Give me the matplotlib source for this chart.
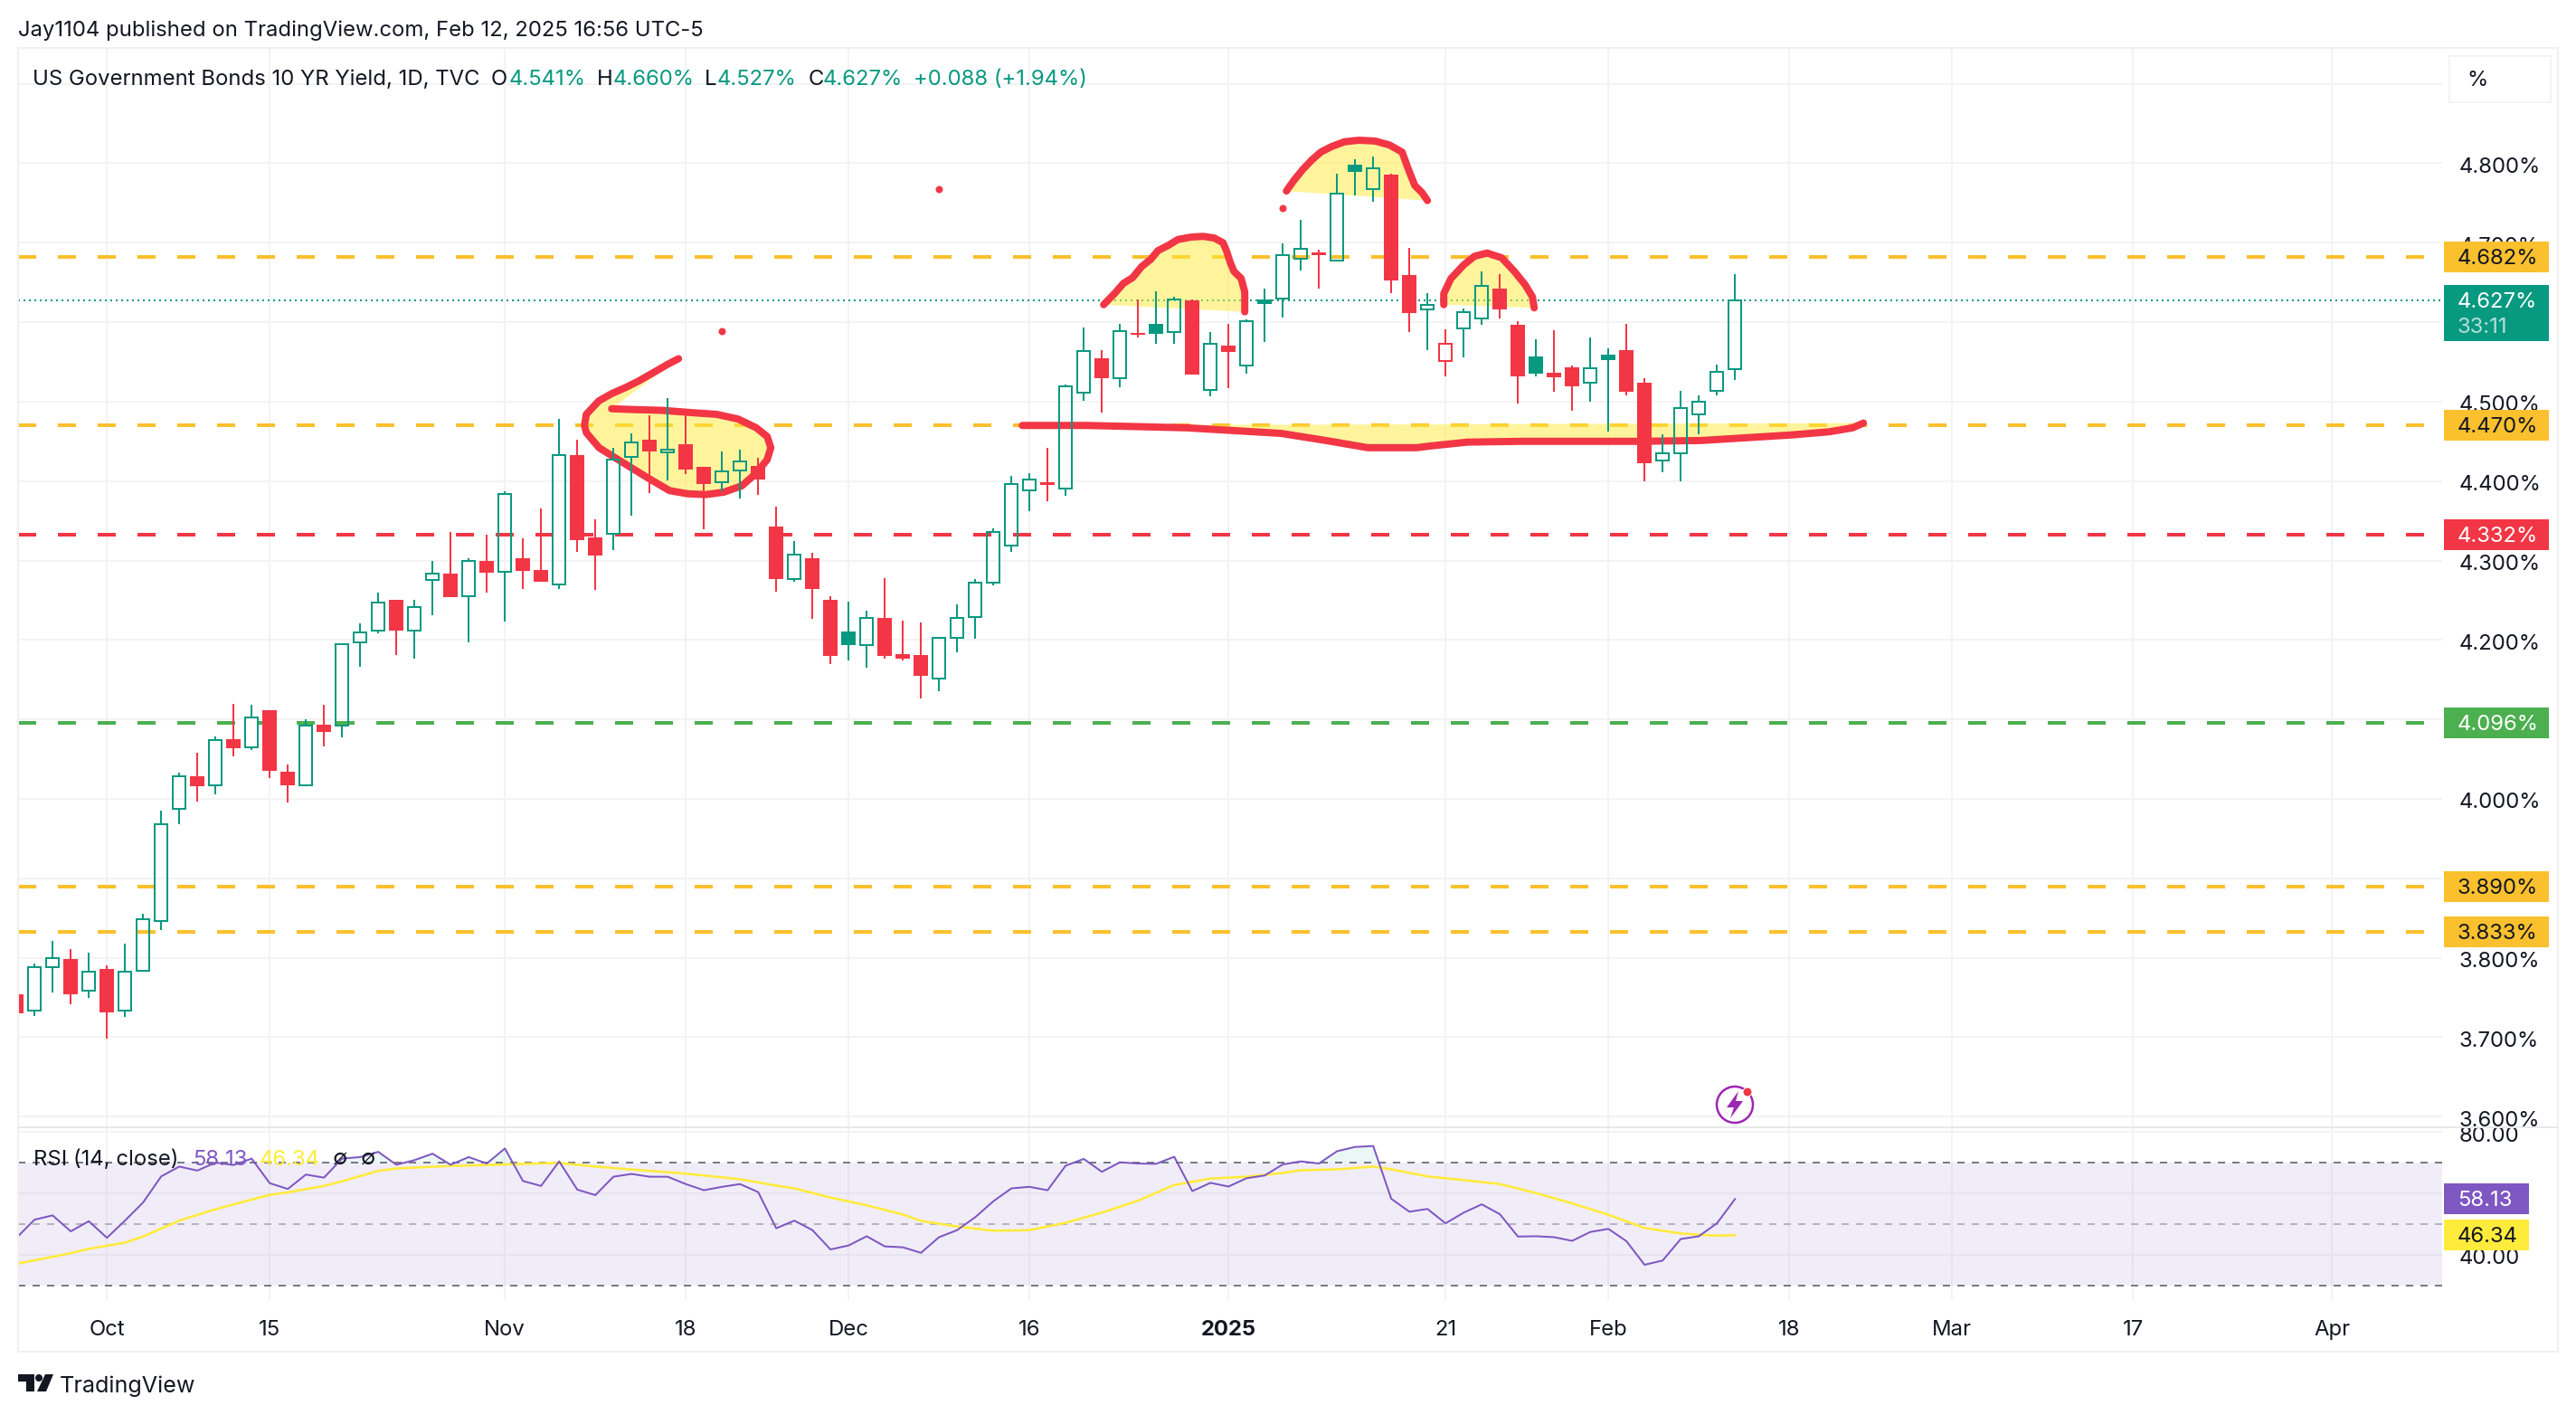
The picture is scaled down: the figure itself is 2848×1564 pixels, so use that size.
import matplotlib
matplotlib.use("Agg")
import matplotlib.pyplot as plt
from matplotlib.patches import Rectangle, Polygon, Circle
from matplotlib.text import Text
from matplotlib.transforms import Bbox, ScaledTranslation

plt.rcParams['font.family'] = ['Inter', 'DejaVu Sans']

W, H = 2848, 1564
PX = 0.72  # one pixel in points at dpi 100

# daily candles, bar 0 is the clipped one at the left edge
opens = [3.754, 3.733, 3.788, 3.798, 3.759, 3.786, 3.733, 3.784, 3.846, 3.987,
         4.029, 4.017, 4.075, 4.065, 4.112, 4.034, 4.017, 4.093, 4.092, 4.197,
         4.212, 4.250, 4.212, 4.276, 4.284, 4.255, 4.300, 4.286, 4.303, 4.288,
         4.270, 4.433, 4.329, 4.334, 4.430, 4.452, 4.436, 4.446, 4.418, 4.399,
         4.413, 4.419, 4.343, 4.277, 4.303, 4.250, 4.211, 4.194, 4.228, 4.182,
         4.181, 4.151, 4.203, 4.229, 4.272, 4.319, 4.388, 4.398, 4.391, 4.511,
         4.554, 4.530, 4.586, 4.598, 4.587, 4.627, 4.515, 4.571, 4.545, 4.628,
         4.630, 4.680, 4.688, 4.677, 4.798, 4.768, 4.786, 4.659, 4.616, 4.551,
         4.592, 4.605, 4.642, 4.597, 4.557, 4.536, 4.543, 4.524, 4.559, 4.565,
         4.524, 4.426, 4.435, 4.484, 4.513, 4.541]
highs = [3.754, 3.793, 3.821, 3.811, 3.806, 3.791, 3.818, 3.855, 3.985, 4.033,
         4.058, 4.078, 4.120, 4.118, 4.112, 4.043, 4.100, 4.118, 4.196, 4.221,
         4.260, 4.250, 4.250, 4.300, 4.336, 4.303, 4.333, 4.387, 4.328, 4.366,
         4.478, 4.452, 4.352, 4.442, 4.460, 4.483, 4.504, 4.485, 4.418, 4.437,
         4.439, 4.429, 4.368, 4.324, 4.310, 4.255, 4.248, 4.237, 4.278, 4.224,
         4.222, 4.203, 4.245, 4.277, 4.340, 4.407, 4.410, 4.442, 4.522, 4.593,
         4.565, 4.598, 4.629, 4.639, 4.632, 4.629, 4.587, 4.598, 4.604, 4.642,
         4.699, 4.729, 4.691, 4.787, 4.805, 4.809, 4.787, 4.694, 4.637, 4.591,
         4.617, 4.664, 4.660, 4.601, 4.579, 4.590, 4.545, 4.581, 4.567, 4.598,
         4.529, 4.459, 4.513, 4.508, 4.547, 4.660]
lows = [3.730, 3.727, 3.756, 3.742, 3.750, 3.698, 3.725, 3.784, 3.835, 3.968,
        3.996, 4.006, 4.053, 4.061, 4.026, 3.995, 4.017, 4.066, 4.077, 4.166,
        4.208, 4.181, 4.176, 4.231, 4.254, 4.197, 4.260, 4.223, 4.264, 4.273,
        4.264, 4.311, 4.263, 4.313, 4.356, 4.385, 4.401, 4.409, 4.339, 4.387,
        4.378, 4.383, 4.261, 4.273, 4.227, 4.170, 4.174, 4.165, 4.176, 4.174,
        4.126, 4.136, 4.184, 4.201, 4.269, 4.311, 4.362, 4.375, 4.381, 4.501,
        4.486, 4.518, 4.581, 4.573, 4.573, 4.534, 4.507, 4.517, 4.535, 4.575,
        4.606, 4.665, 4.642, 4.677, 4.759, 4.751, 4.637, 4.588, 4.565, 4.532,
        4.556, 4.597, 4.605, 4.498, 4.532, 4.512, 4.488, 4.500, 4.462, 4.508,
        4.400, 4.411, 4.400, 4.459, 4.508, 4.527]
closes = [3.730, 3.788, 3.800, 3.754, 3.783, 3.731, 3.783, 3.848, 3.968, 4.028,
          4.016, 4.074, 4.064, 4.103, 4.035, 4.017, 4.092, 4.084, 4.195, 4.209,
          4.247, 4.212, 4.241, 4.283, 4.254, 4.299, 4.285, 4.384, 4.287, 4.273,
          4.433, 4.326, 4.306, 4.427, 4.449, 4.437, 4.440, 4.414, 4.396, 4.412,
          4.425, 4.402, 4.277, 4.307, 4.264, 4.180, 4.193, 4.228, 4.180, 4.177,
          4.155, 4.203, 4.228, 4.272, 4.336, 4.396, 4.402, 4.395, 4.519, 4.564,
          4.529, 4.589, 4.584, 4.585, 4.628, 4.534, 4.573, 4.562, 4.601, 4.623,
          4.684, 4.692, 4.684, 4.762, 4.789, 4.794, 4.652, 4.612, 4.622, 4.573,
          4.613, 4.646, 4.616, 4.532, 4.535, 4.531, 4.519, 4.542, 4.552, 4.512,
          4.423, 4.435, 4.492, 4.500, 4.538, 4.627]

rsi = [45.5, 51.4, 52.8, 47.6, 50.9, 45.5, 51.1, 57.0, 65.5, 68.7,
       67.4, 70.0, 69.2, 71.3, 63.3, 61.4, 66.1, 65.1, 71.3, 71.8,
       73.5, 69.3, 70.8, 72.9, 69.3, 71.8, 69.7, 74.6, 64.0, 62.4,
       70.4, 61.2, 59.4, 65.4, 66.3, 65.4, 65.4, 63.0, 61.0, 62.1,
       63.0, 60.4, 48.6, 51.1, 48.0, 41.7, 43.0, 46.0, 42.7, 42.4,
       40.6, 45.7, 48.0, 52.2, 57.4, 61.6, 62.1, 61.0, 69.0, 71.2,
       67.0, 70.1, 69.7, 69.6, 71.9, 60.7, 63.4, 62.2, 64.9, 65.8,
       69.4, 70.4, 69.7, 73.7, 75.1, 75.4, 58.2, 54.0, 54.9, 50.2,
       53.7, 56.4, 53.2, 45.9, 46.0, 45.7, 44.5, 47.4, 48.4, 44.4,
       36.7, 38.1, 45.1, 46.0, 50.2, 58.13]
ma_bars = [0, 2, 3, 4, 5, 6, 7, 9, 11, 14, 15, 17, 18, 20, 21, 24, 27, 30, 32, 35,
           37, 40, 42, 43, 45, 47, 49, 50, 52, 54, 56, 58, 60, 62, 64, 66, 68, 70,
           71, 73, 75, 76, 78, 80, 82, 84, 86, 88, 90, 92, 94, 95]
ma_vals = [37.0, 39.3, 40.5, 41.9, 42.9, 43.9, 45.9, 51.1, 54.8, 59.5, 60.3, 62.4, 63.9,
           67.3, 68.1, 68.9, 69.4, 69.9, 68.7, 67.3, 66.4, 64.6, 62.5, 61.6, 58.6, 56.1,
           53.1, 51.0, 49.2, 47.8, 48.0, 50.4, 53.7, 57.6, 62.7, 64.8, 65.4, 66.6, 67.5,
           67.8, 68.7, 67.8, 65.5, 64.3, 63.0, 60.1, 56.7, 53.0, 48.7, 46.9, 46.2, 46.34]

price_ticks = [3.6, 3.7, 3.8, 3.9, 4.0, 4.1, 4.2, 4.3, 4.4, 4.5, 4.6, 4.7, 4.8, 4.9]
price_labels = ['3.600%', '3.700%', '3.800%', '3.900%', '4.000%', '4.100%', '4.200%',
                '4.300%', '4.400%', '4.500%', '4.600%', '4.700%', '4.800%', '']
rsi_ticks = [40, 60, 80]
rsi_labels = ['40.00', '60.00', '80.00']
time_ticks = [5, 14, 27, 37, 46, 56, 67, 79, 88, 98, 107, 117, 128]
time_labels = ['Oct', '15', 'Nov', '18', 'Dec', '16', '2025', '21', 'Feb', '18', 'Mar', '17', 'Apr']

# horizontal levels: value, line colour, text colour
levels = [(4.682, '#fbc02d', '#131722'), (4.470, '#fbc02d', '#131722'),
          (4.332, '#f23645', '#ffffff'), (4.096, '#4caf50', '#ffffff'),
          (3.890, '#fbc02d', '#131722'), (3.833, '#fbc02d', '#131722')]

# hand drawn strokes, in bars and percent
ear_x = [36.6, 36.0, 35.4, 34.4, 33.7, 32.9, 32.2, 31.5, 31.4, 31.5, 32.2, 33.4, 34.9, 36.1, 37.1,
         38.1, 39.1, 40.1, 40.9, 41.5, 41.7, 41.5, 40.9, 39.9, 38.7, 37.4, 35.7, 34.1, 32.9]
ear_y = [4.554, 4.547, 4.539, 4.526, 4.518, 4.510, 4.501, 4.484, 4.470, 4.461, 4.442, 4.425, 4.404, 4.388, 4.384,
         4.383, 4.386, 4.394, 4.410, 4.427, 4.442, 4.456, 4.467, 4.478, 4.484, 4.486, 4.489, 4.490, 4.491]
left_x = [60.1, 60.7, 61.2, 61.7, 62.2, 62.7, 63.1, 63.7, 64.2, 64.9, 65.6, 66.2, 66.7, 66.9, 67.1, 67.3, 67.7, 67.9, 67.9]
left_y = [4.622, 4.636, 4.649, 4.656, 4.670, 4.679, 4.690, 4.697, 4.704, 4.707, 4.708, 4.706, 4.700, 4.689,
          4.675, 4.664, 4.655, 4.638, 4.613]
head_x = [70.2, 70.6, 71.1, 71.6, 72.1, 72.7, 73.4, 74.2, 75.1, 75.9, 76.6, 76.9, 77.3, 77.7, 78.0]
head_y = [4.765, 4.778, 4.792, 4.804, 4.814, 4.821, 4.827, 4.829, 4.828, 4.823, 4.814, 4.795, 4.772, 4.763, 4.753]
right_x = [78.9, 78.9, 79.3, 80.0, 80.6, 81.3, 82.1, 82.8, 83.4, 83.8, 83.9]
right_y = [4.622, 4.636, 4.655, 4.672, 4.683, 4.687, 4.681, 4.664, 4.647, 4.632, 4.618]
neck_x = [55.6, 59.1, 61.1, 64.7, 69.9, 72.4, 74.7, 77.4, 78.1, 80.2, 83.1, 89.7, 93.1, 98.1, 100.2, 101.5, 102.1]
neck_y = [4.470, 4.470, 4.469, 4.467, 4.460, 4.451, 4.442, 4.442, 4.444, 4.449, 4.450, 4.450, 4.451, 4.458,
          4.462, 4.467, 4.473]
dots_x = [51.0, 39.0, 70.0]
dots_y = [4.767, 4.589, 4.744]

GREEN = '#089981'
RED = '#f23645'
GRID = '#f3f3f3'
TEXT = '#131722'
FS = 17.2


def box(ax_left, top, right, bottom):
    return [ax_left / W, 1 - bottom / H, (right - ax_left) / W, (bottom - top) / H]


fig = plt.figure(figsize=(W / 100, H / 100), dpi=100, facecolor='white')
ax = fig.add_axes(box(20, 54, 2700, 1246))
ax_rsi = fig.add_axes(box(20, 1246, 2700, 1437))
ax.set_zorder(3)
ax_rsi.set_zorder(2)

xmin, xmax = 0.09, 134.09
for a in (ax, ax_rsi):
    a.set_xlim(xmin, xmax)
    a.set_facecolor('none')
    for s in a.spines.values():
        s.set_visible(False)
    a.set_axisbelow(True)
    a.grid(True, color=GRID, lw=2 * PX)
    a.yaxis.tick_right()
    a.tick_params(length=0, labelsize=FS, labelcolor=TEXT, pad=19 * PX)
    a.set_xticks(time_ticks)
ax.set_xticklabels([])
ax.set_ylim(3.5866, 4.944)
ax.set_yticks(price_ticks)
ax.set_yticklabels(price_labels)

# levels and their tags
tag_l, tag_r = (2702 - 18.2) / 20, (2818 - 18.2) / 20
for val, col, tcol in levels:
    ax.plot([xmin, xmax], [val, val], color=col, lw=4 * PX, dashes=(5, 6), zorder=1.2,
            dash_capstyle='butt')
    ax.add_patch(Rectangle((tag_l, val - 17 / 878), tag_r - tag_l, 34 / 878, fc=col, ec='none',
                           clip_on=False, zorder=6))
    ax.text(134.94, val, '%.3f%%' % val, color=tcol, fontsize=FS, va='center', ha='left',
            clip_on=False, zorder=7)

ax.plot([xmin, xmax], [closes[-1], closes[-1]], color=GREEN, lw=2 * PX, dashes=(1, 2), zorder=1.3)
ax.add_patch(Rectangle((tag_l, closes[-1] - 45 / 878), tag_r - tag_l, 62 / 878, fc=GREEN, ec='none',
                       clip_on=False, zorder=6))
ax.text(134.94, closes[-1], '%.3f%%' % closes[-1], color='white', fontsize=FS, va='center',
        clip_on=False, zorder=7)
ax.text(134.94, closes[-1] - 28 / 878, '33:11', color='#b5e0d8', fontsize=FS, va='center',
        clip_on=False, zorder=7)

# hand drawing, fill first
for xs, ys in [(ear_x, ear_y), (left_x, left_y), (head_x, head_y), (right_x, right_y), (neck_x, neck_y)]:
    ax.add_patch(Polygon(list(zip(xs, ys)), closed=True, fc='#ffeb3b', alpha=0.5, ec='none', zorder=1.5))
    ax.plot(xs, ys, color=RED, lw=8 * PX, solid_capstyle='round', solid_joinstyle='round', zorder=1.7)
ax.plot(dots_x, dots_y, 'o', color=RED, ms=8 * PX, mew=0, zorder=1.7)

# candles
for i in range(len(closes)):
    o, h, l, c = opens[i], highs[i], lows[i], closes[i]
    prev = closes[i - 1] if i else o
    col = RED if c < prev else GREEN
    top, bot = max(o, c), min(o, c)
    ax.vlines(i, top, h, color=col, lw=2 * PX, zorder=2)
    ax.vlines(i, l, bot, color=col, lw=2 * PX, zorder=2)
    if c > o:
        ax.add_patch(Rectangle((i - 0.35, bot), 0.7, top - bot, fc='none', ec=col, lw=2 * PX, zorder=2.1))
    else:
        ax.add_patch(Rectangle((i - 0.4, bot), 0.8, max(top - bot, 0.002), fc=col, ec='none', zorder=2.1))

# rsi pane
ax_rsi.set_ylim(25.2, 81.5)
ax_rsi.set_yticks(rsi_ticks)
ax_rsi.set_yticklabels(rsi_labels)
ax_rsi.axhspan(30, 70, color='#7e57c2', alpha=0.1, lw=0, zorder=1)
for lev, alpha in [(70, 1), (50, 0.5), (30, 1)]:
    ax_rsi.plot([xmin, xmax], [lev, lev], color='#787b86', alpha=alpha, lw=2 * PX, dashes=(4, 4), zorder=1.2)
bars = list(range(len(rsi)))
ax_rsi.fill_between(bars, rsi, 70, where=[v > 70 for v in rsi], interpolate=True, color=GREEN,
                    alpha=0.08, lw=0, zorder=1.3)
ax_rsi.plot(ma_bars, ma_vals, color='#ffeb3b', lw=2.6 * PX, zorder=2)
ax_rsi.plot(bars, rsi, color='#7e57c2', lw=2 * PX, zorder=2.1)
ax_rsi.set_xticklabels(time_labels)
ax_rsi.tick_params(axis='x', pad=20 * PX)
for lbl in ax_rsi.get_xticklabels():
    if lbl.get_text() == '2025':
        lbl.set_fontweight('bold')
for lbl in ax_rsi.get_yticklabels():
    lbl.set_clip_box(Bbox([[2700, 0], [W, H - 1247]]))
    lbl.set_clip_on(True)

r_y_scale = (81.5 - 25.2) / 191
ax_rsi.add_patch(Rectangle((tag_l, rsi[-1] - 17 * r_y_scale), (2796 - 2702) / 20, 34 * r_y_scale, fc='#7e57c2',
                           ec='none', clip_on=False, zorder=6))
ax_rsi.text(134.94, rsi[-1], '%.2f' % rsi[-1], color='white', fontsize=FS, va='center', clip_on=False, zorder=7)
ax_rsi.add_patch(Rectangle((tag_l, ma_vals[-1] - 17 * r_y_scale), (2796 - 2702) / 20, 34 * r_y_scale, fc='#ffeb3b',
                           ec='none', clip_on=False, zorder=6))
ax_rsi.text(134.94, ma_vals[-1], '%.2f' % ma_vals[-1], color=TEXT, fontsize=FS, va='center', clip_on=False, zorder=7)

# frame, button, icon and logo on a pixel overlay
over = fig.add_axes([0, 0, 1, 1])
over.set_xlim(0, W)
over.set_ylim(H, 0)
over.axis('off')
over.patch.set_alpha(0)
over.set_zorder(5)
over.add_patch(Rectangle((20, 53), 2808, 1441, fc='none', ec='#f0f0f0', lw=2 * PX))
over.plot([20, 2828], [1246, 1246], color='#e8e8e8', lw=2 * PX)
over.add_patch(Rectangle((2708, 62), 112, 51, fc='white', ec='#f0f0f0', lw=1.5 * PX))
over.text(2727, 87, '%', fontsize=FS, color=TEXT, va='center')

over.add_patch(Circle((1918, 1221), 20, fc='white', ec='#9c27b0', lw=2.5 * PX))
over.add_patch(Polygon([(1922, 1206), (1909, 1224), (1917, 1224), (1913, 1236), (1927, 1217), (1919, 1217)],
                       closed=True, fc='#9c27b0', ec='none'))
over.add_patch(Circle((1932, 1207), 5, fc=RED, ec='white', lw=1 * PX))

over.add_patch(Polygon([(20, 1519), (38, 1519), (38, 1538), (29, 1538), (29, 1527), (20, 1527)], closed=True,
                       fc='#131722', ec='none'))
over.add_patch(Circle((43, 1523), 4, fc='#131722', ec='none'))
over.add_patch(Polygon([(50, 1519), (59, 1519), (51, 1538), (41, 1538)], closed=True, fc='#131722', ec='none'))
over.text(66, 1530, 'TradingView', fontsize=18.1, color=TEXT, va='center')

# header and legend text
over.text(20, 32, 'Jay1104 published on TradingView.com, Feb 12, 2025 16:56 UTC-5', fontsize=FS, color=TEXT, va='center')
over.text(36, 86, 'US Government Bonds 10 YR Yield, 1D, TVC', fontsize=FS, color=TEXT, va='center')
legend_parts = [(543, 'O', TEXT), (563, '4.541%', GREEN), (660, 'H', TEXT), (678, '4.660%', GREEN),
                (779, 'L', TEXT), (793, '4.527%', GREEN), (894, 'C', TEXT), (910, '4.627%', GREEN),
                (1010, '+0.088 (+1.94%)', GREEN)]
for x, s, col in legend_parts:
    over.text(x, 86, s, fontsize=FS, color=col, va='center')

over.text(37, 1280, 'RSI (14, close)', fontsize=FS, color=TEXT, va='center')
over.text(213, 1280, '%.2f' % rsi[-1], fontsize=FS, color='#7e57c2', va='center')
over.text(287, 1280, '%.2f' % ma_vals[-1], fontsize=FS, color='#ffeb3b', va='center')
over.text(368, 1280, '\u2205', fontsize=FS, color=TEXT, va='center')
over.text(399, 1280, '\u2205', fontsize=FS, color=TEXT, va='center')

# all text sat about 2 px too high
shift = ScaledTranslation(0, -0.02, fig.dpi_scale_trans)
for t in fig.findobj(Text):
    t.set_transform(t.get_transform() + shift)

fig.savefig('out.png', dpi=100)
